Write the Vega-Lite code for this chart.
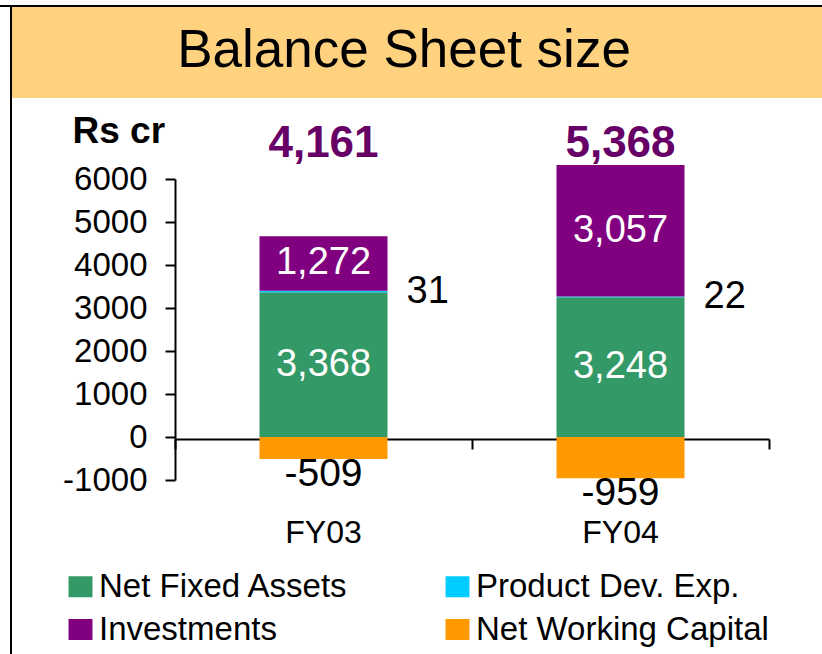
{
  "$schema": "https://vega.github.io/schema/vega-lite/v6.json",
  "background": "black",
  "padding": 0,
  "spacing": 2,
  "bounds": "flush",
  "config": {"font": "Liberation Sans", "view": {"stroke": null}},
  "datasets": {
    "parts": [
      {"year": "FY03", "category": "Net Fixed Assets", "value": 3368},
      {"year": "FY03", "category": "Product Dev. Exp.", "value": 31},
      {"year": "FY03", "category": "Investments", "value": 1272},
      {"year": "FY03", "category": "Net Working Capital", "value": -509},
      {"year": "FY04", "category": "Net Fixed Assets", "value": 3248},
      {"year": "FY04", "category": "Product Dev. Exp.", "value": 22},
      {"year": "FY04", "category": "Investments", "value": 3057},
      {"year": "FY04", "category": "Net Working Capital", "value": -959}
    ],
    "totals": [
      {"year": "FY03", "total": 4161},
      {"year": "FY04", "total": 5368}
    ],
    "heading": [{"label": "Balance Sheet size"}]
  },
  "vconcat": [
    {"width": 822, "height": 5, "data": {"values": []}, "mark": "point", "view": {"fill": "white", "stroke": null}},
    {
      "hconcat": [
        {"width": 10, "height": 647, "data": {"values": []}, "mark": "point", "view": {"fill": "white", "stroke": null}},
        {
          "vconcat": [
            {
              "width": 810, "height": 91,
              "data": {"name": "heading"},
              "view": {"fill": "#FFD280", "stroke": null},
              "mark": {"type": "text", "fontSize": 53, "color": "black", "dx": -13, "dy": -2, "baseline": "middle"},
              "encoding": {"text": {"field": "label", "type": "nominal"}}
            },
            {
              "width": 810, "height": 556,
              "view": {"fill": "white", "stroke": null},
              "data": {"name": "parts"},
              "transform": [
                {"calculate": "indexof(['Net Fixed Assets','Product Dev. Exp.','Investments','Net Working Capital'], datum.category)", "as": "ord"}
              ],
              "layer": [
                {
                  "mark": {"type": "bar", "width": 128},
                  "encoding": {
                    "x": {"field": "year", "type": "nominal",
                      "scale": {"range": [163, 757], "paddingInner": 0, "paddingOuter": 0},
                      "axis": {"orient": "bottom", "offset": -215, "labels": false, "title": null, "grid": false,
                        "domainColor": "black", "domainWidth": 2, "tickColor": "black", "tickWidth": 2, "tickSize": 10, "tickBand": "extent"}},
                    "y": {"field": "value", "type": "quantitative", "stack": "zero", "title": "Rs cr",
                      "scale": {"domain": [-1000, 6000], "range": [382, 81], "nice": false, "zero": false},
                      "axis": {"orient": "left", "offset": -163, "values": [-1000, 0, 1000, 2000, 3000, 4000, 5000, 6000],
                        "labelExpr": "'' + datum.value", "grid": false,
                        "domainColor": "black", "domainWidth": 2, "tickColor": "black", "tickWidth": 2, "tickSize": 10,
                        "labelFontSize": 33, "labelColor": "black", "labelPadding": 18,
                        "titleFontSize": 37, "titleFontWeight": "bold", "titleColor": "black",
                        "titleAngle": 0, "titleAlign": "left", "titleBaseline": "alphabetic", "titleX": -103, "titleY": 44}},
                    "color": {"field": "category", "type": "nominal",
                      "scale": {"domain": ["Net Fixed Assets", "Investments", "Product Dev. Exp.", "Net Working Capital"],
                        "range": ["#339966", "#800080", "#00CCFF", "#FF9900"]},
                      "legend": {"title": null, "orient": "none", "legendX": 64, "legendY": 570, "columns": 2,
                        "columnPadding": 92, "rowPadding": 9, "padding": 0,
                        "symbolType": "M-1.14,-1H1.14V1H-1.14Z", "symbolSize": 441, "symbolStrokeWidth": 0, "symbolOpacity": 1,
                        "labelFontSize": 33, "labelColor": "black", "labelOffset": 2, "labelLimit": 400}},
                    "order": {"field": "ord", "type": "quantitative"}
                  }
                },
                {
                  "mark": {"type": "text", "fontSize": 38, "color": "white", "baseline": "middle"},
                  "encoding": {
                    "x": {"field": "year", "type": "nominal", "axis": null},
                    "y": {"field": "value", "type": "quantitative", "stack": "zero", "bandPosition": 0.5, "title": "Rs cr"},
                    "detail": {"field": "category"},
                    "order": {"field": "ord", "type": "quantitative"},
                    "text": {"condition": {"test": "datum.category === 'Net Fixed Assets' || datum.category === 'Investments'", "field": "value", "type": "quantitative", "format": ","}, "value": ""}
                  }
                },
                {
                  "mark": {"type": "text", "fontSize": 38, "color": "black", "baseline": "middle", "align": "left", "dx": 83},
                  "encoding": {
                    "x": {"field": "year", "type": "nominal", "axis": null},
                    "y": {"field": "value", "type": "quantitative", "stack": "zero", "bandPosition": 0.5, "title": "Rs cr"},
                    "detail": {"field": "category"},
                    "order": {"field": "ord", "type": "quantitative"},
                    "text": {"condition": {"test": "datum.category === 'Product Dev. Exp.'", "field": "value", "type": "nominal"}, "value": ""}
                  }
                },
                {
                  "mark": {"type": "text", "fontSize": 39, "color": "black", "baseline": "alphabetic", "dy": 27},
                  "encoding": {
                    "x": {"field": "year", "type": "nominal", "axis": null},
                    "y": {"field": "value", "type": "quantitative", "stack": "zero", "title": "Rs cr"},
                    "detail": {"field": "category"},
                    "order": {"field": "ord", "type": "quantitative"},
                    "text": {"condition": {"test": "datum.category === 'Net Working Capital'", "field": "value", "type": "nominal"}, "value": ""}
                  }
                },
                {
                  "data": {"name": "totals"},
                  "mark": {"type": "text", "fontSize": 44, "fontWeight": "bold", "color": "#660066", "baseline": "alphabetic", "dy": -22},
                  "encoding": {
                    "x": {"field": "year", "type": "nominal",
                      "axis": {"orient": "bottom", "offset": -122, "domain": false, "ticks": false, "tickSize": 0, "grid": false,
                        "labelPadding": 0, "labelBaseline": "middle", "labelFontSize": 32, "labelColor": "black", "labelAngle": 0, "title": null}},
                    "y": {"datum": 6000, "type": "quantitative", "title": "Rs cr"},
                    "text": {"field": "total", "type": "quantitative", "format": ","}
                  }
                }
              ],
              "resolve": {"axis": {"x": "independent"}}
            }
          ],
          "spacing": 0,
          "bounds": "flush"
        }
      ],
      "spacing": 2,
      "bounds": "flush"
    }
  ]
}
